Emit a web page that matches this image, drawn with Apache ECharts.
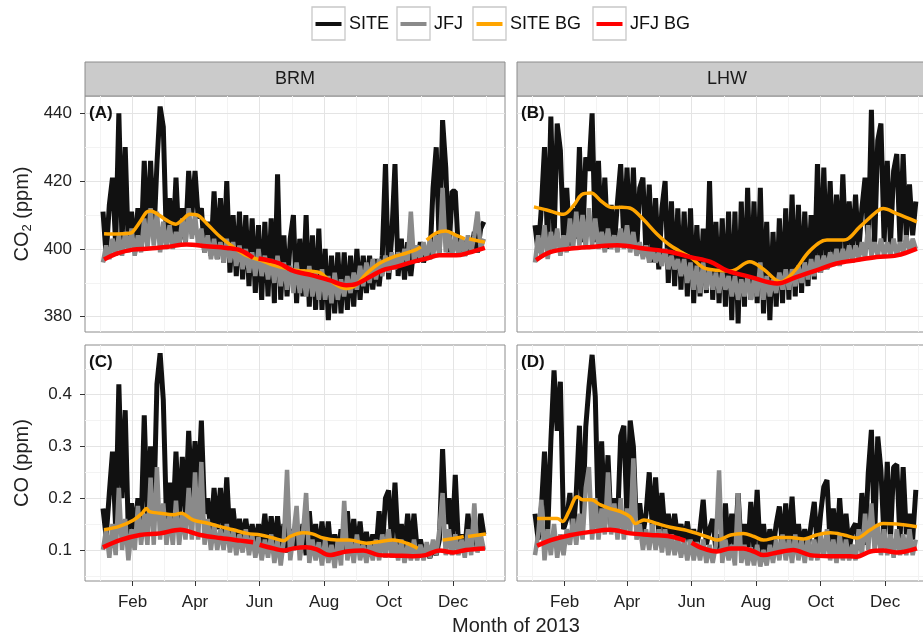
<!DOCTYPE html>
<html>
<head>
<meta charset="utf-8">
<title>CO2 and CO at BRM and LHW, 2013</title>
<script src="https://cdn.jsdelivr.net/npm/echarts@6/dist/echarts.min.js"></script>
<style>
  html, body { margin: 0; padding: 0; background: #fff; }
  #chart { width: 923px; height: 637px; }
</style>
</head>
<body>
<div id="chart"></div>
<script>
// day 0 = 1 Jan 2013, the station series are read every 3 days
const sampleDays = Array.from({ length: 121 }, (_, i) => 3 + 3 * i);

const monthTicks = [31, 90, 151, 212, 273, 334];
const monthLabels = ['Feb', 'Apr', 'Jun', 'Aug', 'Oct', 'Dec'];
const monthMinor = [0, 60.5, 120.5, 181.5, 242.5, 303.5, 365];

const co2Ticks = [380, 400, 420, 440];
const co2Minor = [390, 410, 430];
const coTicks = [0.1, 0.2, 0.3, 0.4];
const coMinor = [0.05, 0.15, 0.25, 0.35, 0.45];

const seriesNames = ['SITE', 'JFJ', 'SITE BG', 'JFJ BG'];
const panelNames = ['BRM', 'LHW'];
const panelTags = ['(A)', '(B)', '(C)', '(D)'];

// ---- BRM CO2 (ppm)
const brmCo2Site = [
  411, 398, 413, 421, 401, 440, 402, 430, 400, 411,
  399, 412, 400, 426, 402, 426, 403, 425, 442, 436,
  402, 415, 401, 421, 401, 412, 402, 423, 410, 423,
  409, 412, 399, 408, 398, 417, 397, 415, 396, 420,
  393, 410, 392, 411, 391, 410, 389, 409, 387, 407,
  385, 408, 386, 409, 384, 422, 385, 404, 386, 403,
  410, 384, 403, 386, 410, 383, 404, 382, 406, 382,
  400, 379, 398, 381, 399, 381, 399, 382, 398, 383,
  400, 385, 398, 387, 398, 388, 397, 389, 398, 425,
  391, 404, 425, 392, 403, 391, 402, 392, 401, 396,
  402, 396, 400, 397, 418, 430, 399, 438, 424, 399,
  417, 417, 399, 403, 398, 402, 399, 405, 399, 406,
  408
];
const brmCo2Jfj = [
  396, 401, 397, 403, 398, 404, 398, 405, 399, 406,
  398, 404, 399, 409, 400, 412, 401, 411, 399, 408,
  400, 407, 400, 405, 401, 409, 402, 412, 403, 410,
  401, 406, 399, 404, 397, 403, 397, 402, 396, 403,
  396, 402, 395, 401, 394, 400, 393, 399, 392, 400,
  392, 398, 391, 397, 390, 398, 389, 396, 388, 395,
  387, 396, 387, 394, 386, 395, 386, 393, 385, 394,
  385, 392, 384, 393, 385, 391, 386, 392, 387, 393,
  388, 395, 389, 396, 390, 397, 391, 397, 392, 398,
  393, 399, 394, 399, 395, 400, 396, 411, 396, 401,
  397, 402, 397, 403, 398, 404, 398, 418, 399, 405,
  398, 404, 398, 403, 398, 404, 399, 404, 411, 400,
  403
];
const brmCo2SiteBg = [
  [4, 404.5], [16, 404.4], [28, 404.6], [31, 405], [38, 408], [44, 410.8], [48, 411.2],
  [54, 410.4], [63, 408.5], [72, 407.3], [78, 408.6], [85, 410.2], [92, 410], [101, 407.5],
  [114, 403.5], [126, 400.6], [139, 398], [152, 396.7], [164, 395.2], [177, 394.2],
  [189, 393.6], [200, 393.4], [208, 393], [217, 390.8], [233, 388.3], [242, 389.3],
  [252, 392.7], [264, 395.7], [277, 397.6], [290, 398.8], [299, 399.8], [303.5, 400.6],
  [306, null], [309, 402.6], [318, 404.7], [327, 405.3], [337, 404], [345, 403],
  [347, null], [349, 403], [356, 402.5], [364, 402]
];
const brmCo2JfjBg = [
  [4, 396.9], [16, 398.6], [31, 399.8], [47, 400.1], [63, 400.6], [82, 401.3], [101, 400.8],
  [120, 400.3], [133, 399.6], [145, 397.4], [147, null], [150, 397.2], [160, 396.6],
  [170, 395.7], [183, 393.5], [201, 392.2], [217, 390.8], [233, 389.3], [242, 389.6],
  [255, 391.7], [267, 393.7], [280, 394.7], [296, 396.2], [308, 397.1], [321, 398.1],
  [337, 398.1], [349, 398.9], [364, 400.3]
];

// ---- LHW CO2 (ppm)
const lhwCo2Site = [
  407, 399, 412, 430, 400, 439, 402, 437, 429, 402,
  418, 401, 412, 403, 430, 402, 427, 423, 440, 402,
  426, 401, 421, 400, 413, 401, 414, 425, 402, 424,
  400, 424, 399, 418, 421, 398, 419, 396, 415, 394,
  412, 420, 390, 414, 389, 412, 388, 411, 386, 412,
  384, 407, 386, 406, 387, 420, 385, 408, 384, 409,
  383, 411, 379, 411, 378, 414, 383, 418, 385, 414,
  384, 418, 381, 408, 379, 405, 383, 409, 384, 412,
  385, 416, 386, 413, 387, 411, 389, 410, 391, 425,
  393, 424, 394, 420, 395, 416, 397, 422, 398, 414,
  399, 416, 399, 412, 421, 400, 441, 401, 432, 437,
  402, 426, 401, 423, 428, 402, 428, 403, 419, 404,
  414
];
const lhwCo2Jfj = [
  396, 404, 398, 407, 397, 405, 399, 406, 398, 404,
  399, 409, 400, 411, 401, 410, 400, 412, 401, 409,
  400, 405, 399, 406, 400, 404, 399, 406, 400, 407,
  399, 405, 398, 402, 397, 401, 396, 400, 396, 399,
  395, 400, 394, 398, 394, 397, 392, 397, 390, 396,
  388, 395, 387, 396, 388, 394, 388, 393, 387, 393,
  388, 392, 386, 392, 385, 391, 386, 392, 385, 391,
  386, 396, 385, 392, 386, 391, 387, 393, 388, 394,
  388, 394, 389, 395, 390, 396, 391, 397, 392, 398,
  393, 398, 394, 399, 395, 400, 395, 400, 396, 401,
  396, 401, 397, 402, 397, 407, 398, 402, 398, 403,
  398, 402, 398, 403, 398, 402, 399, 404, 399, 403,
  400
];
const lhwCo2SiteBg = [
  [2, 412.4], [14, 411.5], [30, 410.2], [40, 413], [47, 416], [56, 416.5], [66, 414],
  [76, 412.2], [85, 412.3], [94, 411.9], [106, 408.5], [118, 404.5], [131, 401],
  [144, 398.6], [150, 397.6], [162, 394.5], [175, 393.7], [188, 393.5], [206, 396.2],
  [219, 394], [235, 390.3], [247, 393], [263, 399.5], [279, 402.6], [295, 402.6],
  [310, 406.5], [326, 411], [332, 411.9], [345, 410.4], [364, 408]
];
const lhwCo2JfjBg = [
  [4, 396.7], [18, 399.1], [37, 400.1], [56, 400.6], [81, 401.1], [106, 400.1], [131, 399.1],
  [150, 397.6], [169, 396.2], [184, 393.7], [207, 391.7], [232, 389.8], [250, 391.7],
  [269, 393.7], [288, 395.7], [307, 396.7], [326, 397.6], [345, 398.1], [364, 400.1]
];

// ---- BRM CO (ppm)
const brmCoSite = [
  0.18, 0.125, 0.21, 0.29, 0.14, 0.42, 0.20, 0.37, 0.13, 0.19,
  0.13, 0.20, 0.14, 0.36, 0.16, 0.30, 0.17, 0.42, 0.48, 0.39,
  0.16, 0.23, 0.15, 0.29, 0.15, 0.28, 0.17, 0.33, 0.20, 0.31,
  0.21, 0.35, 0.17, 0.20, 0.13, 0.22, 0.14, 0.22, 0.13, 0.24,
  0.12, 0.18, 0.12, 0.16, 0.12, 0.16, 0.11, 0.15, 0.11, 0.15,
  0.11, 0.17, 0.10, 0.165, 0.10, 0.165, 0.10, 0.15, 0.095, 0.14,
  0.10, 0.14, 0.10, 0.15, 0.09, 0.175, 0.10, 0.15, 0.09, 0.155,
  0.09, 0.155, 0.085, 0.13, 0.09, 0.14, 0.095, 0.175, 0.09, 0.16,
  0.095, 0.155, 0.09, 0.135, 0.09, 0.13, 0.095, 0.175, 0.10, 0.20,
  0.215, 0.11, 0.23, 0.11, 0.15, 0.10, 0.17, 0.10, 0.17, 0.10,
  0.12, 0.09, 0.10, 0.085, 0.105, 0.09, 0.12, 0.295, 0.15, 0.20,
  0.11, 0.245, 0.11, 0.13, 0.10, 0.17, 0.11, 0.14, 0.10, 0.17,
  0.13
];
const brmCoJfj = [
  0.10, 0.14, 0.085, 0.15, 0.09, 0.22, 0.10, 0.16, 0.08, 0.14,
  0.10, 0.185, 0.11, 0.17, 0.11, 0.24, 0.11, 0.26, 0.12, 0.19,
  0.11, 0.17, 0.11, 0.195, 0.11, 0.17, 0.12, 0.22, 0.12, 0.25,
  0.12, 0.27, 0.11, 0.16, 0.10, 0.15, 0.10, 0.14, 0.10, 0.15,
  0.095, 0.14, 0.09, 0.13, 0.095, 0.14, 0.09, 0.13, 0.085, 0.125,
  0.08, 0.12, 0.085, 0.13, 0.075, 0.12, 0.07, 0.12, 0.255, 0.08,
  0.13, 0.185, 0.08, 0.13, 0.21, 0.075, 0.12, 0.08, 0.115, 0.07,
  0.12, 0.075, 0.11, 0.065, 0.12, 0.07, 0.195, 0.08, 0.12, 0.075,
  0.13, 0.08, 0.11, 0.075, 0.115, 0.08, 0.12, 0.08, 0.13, 0.085,
  0.14, 0.085, 0.12, 0.08, 0.12, 0.075, 0.11, 0.08, 0.12, 0.08,
  0.11, 0.08, 0.115, 0.085, 0.12, 0.09, 0.14, 0.21, 0.09, 0.14,
  0.09, 0.13, 0.09, 0.12, 0.085, 0.14, 0.09, 0.19, 0.095, 0.13,
  0.10
];
const brmCoSiteBg = [
  [4, 0.139], [19, 0.146], [32, 0.158], [40, 0.171], [44, 0.18], [47, 0.174], [57, 0.171],
  [70, 0.168], [77, 0.171], [88, 0.158], [101, 0.152], [114, 0.145], [126, 0.139],
  [139, 0.132], [152, 0.129], [164, 0.123], [174, 0.118], [180, 0.126], [192, 0.133],
  [201, 0.131], [211, 0.123], [224, 0.119], [236, 0.119], [252, 0.113], [264, 0.116],
  [277, 0.119], [290, 0.113], [300.5, 0.103], [303, null], [324, 0.119], [337, 0.123],
  [344, 0.126], [346, null], [348, 0.126], [365, 0.131]
];
const brmCoJfjBg = [
  [3, 0.105], [19, 0.119], [38, 0.129], [57, 0.132], [76, 0.139], [95, 0.129], [114, 0.123],
  [133, 0.118], [145, 0.115], [148, null], [151, 0.11], [164, 0.103], [174, 0.099],
  [183, 0.103], [195, 0.105], [205, 0.101], [217, 0.09], [233, 0.097], [249, 0.099],
  [264, 0.09], [280, 0.089], [296, 0.088], [308, 0.09], [321, 0.099], [334, 0.095],
  [346, 0.1], [364, 0.103]
];

// ---- LHW CO (ppm)
const lhwCoSite = [
  0.17, 0.12, 0.18, 0.29, 0.13, 0.31, 0.447, 0.33, 0.425, 0.14,
  0.16, 0.21, 0.13, 0.21, 0.34, 0.15, 0.338, 0.415, 0.477, 0.396,
  0.14, 0.31, 0.15, 0.283, 0.14, 0.20, 0.15, 0.32, 0.34, 0.16,
  0.35, 0.30, 0.14, 0.19, 0.13, 0.17, 0.25, 0.14, 0.24, 0.13,
  0.21, 0.13, 0.17, 0.12, 0.17, 0.12, 0.15, 0.115, 0.155, 0.11,
  0.14, 0.11, 0.14, 0.197, 0.11, 0.14, 0.16, 0.10, 0.13, 0.10,
  0.19, 0.10, 0.17, 0.10, 0.21, 0.10, 0.15, 0.09, 0.193, 0.10,
  0.216, 0.09, 0.15, 0.09, 0.14, 0.10, 0.15, 0.184, 0.10, 0.19,
  0.10, 0.203, 0.10, 0.15, 0.10, 0.14, 0.10, 0.15, 0.193, 0.10,
  0.17, 0.222, 0.235, 0.11, 0.18, 0.10, 0.20, 0.11, 0.17, 0.10,
  0.14, 0.151, 0.10, 0.21, 0.11, 0.248, 0.332, 0.12, 0.319, 0.254,
  0.12, 0.27, 0.12, 0.26, 0.265, 0.12, 0.26, 0.13, 0.17, 0.12,
  0.216
];
const lhwCoJfj = [
  0.09, 0.13, 0.197, 0.08, 0.14, 0.09, 0.15, 0.085, 0.13, 0.09,
  0.14, 0.11, 0.16, 0.11, 0.17, 0.12, 0.22, 0.26, 0.12, 0.20,
  0.12, 0.18, 0.13, 0.25, 0.13, 0.19, 0.12, 0.20, 0.12, 0.18,
  0.13, 0.277, 0.12, 0.15, 0.10, 0.14, 0.10, 0.15, 0.10, 0.14,
  0.095, 0.14, 0.09, 0.13, 0.09, 0.125, 0.085, 0.12, 0.08, 0.12,
  0.08, 0.115, 0.08, 0.12, 0.075, 0.11, 0.075, 0.11, 0.254, 0.075,
  0.12, 0.08, 0.11, 0.07, 0.21, 0.075, 0.11, 0.07, 0.105, 0.07,
  0.11, 0.068, 0.10, 0.07, 0.11, 0.075, 0.12, 0.08, 0.13, 0.08,
  0.12, 0.075, 0.13, 0.08, 0.12, 0.075, 0.125, 0.08, 0.12, 0.08,
  0.13, 0.085, 0.14, 0.08, 0.12, 0.075, 0.13, 0.08, 0.12, 0.08,
  0.11, 0.08, 0.14, 0.09, 0.17, 0.10, 0.19, 0.10, 0.15, 0.09,
  0.14, 0.09, 0.13, 0.085, 0.14, 0.09, 0.13, 0.09, 0.14, 0.09,
  0.12
];
const lhwCoSiteBg = [
  [5, 0.161], [24, 0.161], [29, 0.155], [35, 0.174], [43, 0.203], [48, 0.197], [56, 0.197],
  [65, 0.187], [74, 0.18], [84, 0.174], [93, 0.164], [98, 0.151], [106, 0.158], [118, 0.151],
  [131, 0.144], [144, 0.139], [156, 0.132], [169, 0.123], [175, 0.119], [188, 0.129],
  [200, 0.132], [210, 0.126], [219, 0.119], [232, 0.124], [244, 0.124], [257, 0.121],
  [269, 0.129], [282, 0.133], [295, 0.129], [307, 0.123], [320, 0.139], [332, 0.151],
  [345, 0.15], [364, 0.145]
];
const lhwCoJfjBg = [
  [5, 0.108], [18, 0.119], [37, 0.129], [56, 0.135], [74, 0.139], [93, 0.132], [112, 0.129],
  [131, 0.126], [145, 0.118], [148, null], [151, 0.114], [162, 0.103], [175, 0.097],
  [188, 0.103], [200, 0.103], [210, 0.097], [219, 0.09], [232, 0.095], [247, 0.1],
  [263, 0.09], [282, 0.088], [301, 0.088], [307, 0.087], [320, 0.097], [332, 0.099],
  [345, 0.095], [364, 0.103]
];

const panels = [
  { site: brmCo2Site, jfj: brmCo2Jfj, siteBg: brmCo2SiteBg, jfjBg: brmCo2JfjBg },
  { site: lhwCo2Site, jfj: lhwCo2Jfj, siteBg: lhwCo2SiteBg, jfjBg: lhwCo2JfjBg },
  { site: brmCoSite, jfj: brmCoJfj, siteBg: brmCoSiteBg, jfjBg: brmCoJfjBg },
  { site: lhwCoSite, jfj: lhwCoJfj, siteBg: lhwCoSiteBg, jfjBg: lhwCoJfjBg }
];

// ---- look
const font = 'Liberation Sans, Arial, Helvetica, sans-serif';
const textColor = '#222';
const colors = ['#111111', '#8a8a8a', '#ffa500', '#ff0000'];
const widths = [5, 4.5, 3.5, 4.5];
const panelLeft = [85, 517];
const panelTop = [96, 345];
const panelW = 420, panelH = 236;
const yRange = [[375.5, 445.1], [0.04, 0.496]];

const majorGrid = { color: '#e4e4e4', width: 1, type: 'solid' };
const minorGrid = { color: '#f3f3f3', width: 1, type: 'solid' };

const chart = echarts.init(document.getElementById('chart'));

const grids = [], xAxes = [], yAxes = [], series = [];

panels.forEach((p, i) => {
  const row = i < 2 ? 0 : 1;
  const col = i % 2;
  const ticks = row === 0 ? co2Ticks : coTicks;
  const minor = row === 0 ? co2Minor : coMinor;

  grids.push({
    left: panelLeft[col], top: panelTop[row], width: panelW, height: panelH,
    show: true, backgroundColor: '#fff', borderColor: '#8c8c8c', borderWidth: 1,
    outerBoundsMode: 'none', containLabel: false
  });

  xAxes.push({
    type: 'value', gridIndex: i, min: -14, max: 383,
    axisLine: { show: false, onZero: false },
    splitLine: { show: false },
    axisTick: {
      show: row === 1, customValues: monthTicks, length: 5,
      lineStyle: { color: '#333', width: 1 }
    },
    axisLabel: {
      show: row === 1, customValues: monthTicks, margin: 13,
      fontSize: 17, color: textColor, fontFamily: font,
      formatter: v => monthLabels[monthTicks.indexOf(Math.round(v))] || ''
    }
  });

  const yName = col !== 0 ? '' : (row === 0 ? '{a|CO}{b|2}{a| (ppm)}' : '{a|CO (ppm)}');
  yAxes.push({
    type: 'value', gridIndex: i, min: yRange[row][0], max: yRange[row][1],
    axisLine: { show: false, onZero: false },
    splitLine: { show: false },
    axisTick: {
      show: col === 0, customValues: ticks, length: 5,
      lineStyle: { color: '#333', width: 1 }
    },
    axisLabel: {
      show: col === 0, customValues: ticks, margin: 13,
      fontSize: 17, color: textColor, fontFamily: font,
      formatter: v => row === 0 ? String(Math.round(v)) : v.toFixed(1)
    },
    name: yName, nameLocation: 'middle', nameGap: 51,
    nameTextStyle: {
      fontSize: 20, color: textColor, fontFamily: font,
      rich: {
        a: { fontSize: 20, lineHeight: 24, color: textColor, fontFamily: font },
        b: { fontSize: 13, lineHeight: 13, verticalAlign: 'bottom', color: textColor, fontFamily: font }
      }
    }
  });

  // panel grid lines, kept under the data
  const gl = [];
  monthMinor.forEach(v => gl.push({ xAxis: v, lineStyle: minorGrid }));
  minor.forEach(v => gl.push({ yAxis: v, lineStyle: minorGrid }));
  monthTicks.forEach(v => gl.push({ xAxis: v, lineStyle: majorGrid }));
  ticks.forEach(v => gl.push({ yAxis: v, lineStyle: majorGrid }));
  series.push({
    type: 'line', xAxisIndex: i, yAxisIndex: i, data: [], silent: true, z: 1,
    markLine: {
      silent: true, symbol: ['none', 'none'], animation: false, z: 1,
      label: { show: false }, emphasis: { disabled: true }, data: gl
    }
  });

  const sets = [
    sampleDays.map((d, k) => [d, p.site[k]]),
    sampleDays.map((d, k) => [d, p.jfj[k]]),
    p.siteBg,
    p.jfjBg
  ];
  sets.forEach((data, s) => {
    series.push({
      name: seriesNames[s], type: 'line', xAxisIndex: i, yAxisIndex: i,
      data: data, showSymbol: false, symbol: 'none', z: 6,
      smooth: s >= 2 ? 0.35 : false,
      connectNulls: false, clip: true, silent: true,
      itemStyle: { color: colors[s] },
      lineStyle: { color: colors[s], width: widths[s], join: s < 2 ? 'bevel' : 'round', cap: 'butt' },
      emphasis: { disabled: true }
    });
  });
});

// legend keys: grey boxes with a line inside, one legend per key
const keyBoxes = [312, 397, 473, 593];
const legends = seriesNames.map((name, k) => ({
  data: [name], left: keyBoxes[k] + 3.5, top: 15, padding: 0,
  icon: 'rect', itemWidth: 26, itemHeight: 4, selectedMode: false,
  itemStyle: { borderWidth: 0 },
  textStyle: { fontSize: 18, color: '#111', fontFamily: font, padding: [0, 0, 0, 2.5] }
}));

const graphics = [];
keyBoxes.forEach(x => graphics.push({
  type: 'rect', shape: { x: x, y: 7, width: 33, height: 33 },
  style: { fill: '#fff', stroke: '#c8c8c8', lineWidth: 1.3 }, z: 0
}));
panelNames.forEach((name, c) => {
  graphics.push({
    type: 'rect', shape: { x: panelLeft[c], y: 62, width: panelW, height: 34 },
    style: { fill: '#cbcbcb', stroke: '#8c8c8c', lineWidth: 1 }, z: 0
  });
  graphics.push({
    type: 'text', x: panelLeft[c] + panelW / 2, y: 79, z: 5,
    style: {
      text: name, fontSize: 18, fontFamily: font, fill: '#1a1a1a',
      align: 'center', verticalAlign: 'middle', textAlign: 'center', textVerticalAlign: 'middle'
    }
  });
});
panelTags.forEach((tag, i) => {
  const row = i < 2 ? 0 : 1, col = i % 2;
  graphics.push({
    type: 'text', x: panelLeft[col] + 4, y: panelTop[row] + 17, z: 100,
    style: {
      text: tag, fontSize: 17, fontWeight: 'bold', fontFamily: font, fill: '#111',
      align: 'left', verticalAlign: 'middle', textAlign: 'left', textVerticalAlign: 'middle'
    }
  });
});
graphics.push({
  type: 'text', x: 516, y: 626, z: 5,
  style: {
    text: 'Month of 2013', fontSize: 20, fontFamily: font, fill: textColor,
    align: 'center', verticalAlign: 'middle', textAlign: 'center', textVerticalAlign: 'middle'
  }
});

chart.setOption({
  animation: false,
  backgroundColor: '#fff',
  legend: legends,
  grid: grids,
  xAxis: xAxes,
  yAxis: yAxes,
  series: series,
  graphic: { elements: graphics }
});
</script>
</body>
</html>
